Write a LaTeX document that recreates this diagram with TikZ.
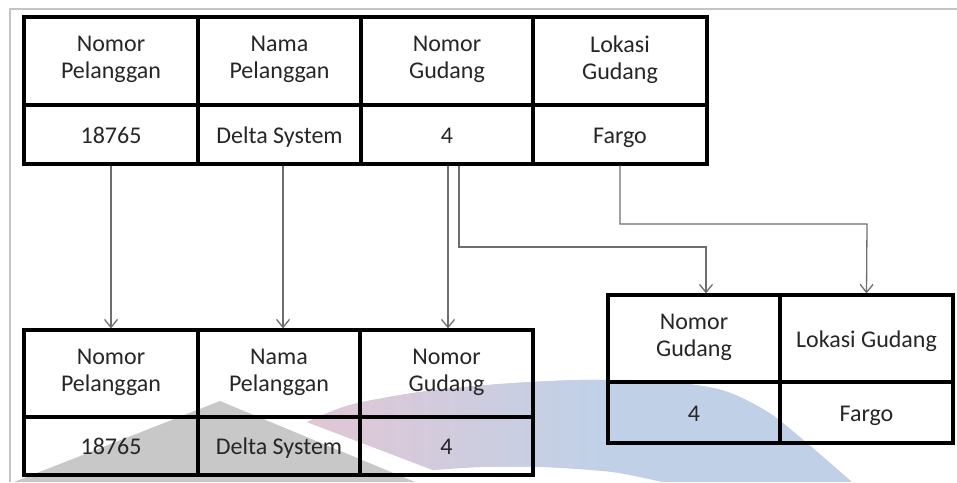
\documentclass[tikz,border=0pt]{standalone}
\usepackage{fontspec}
\setmainfont{Carlito}
\usetikzlibrary{arrows.meta}
\definecolor{frameGray}{HTML}{C4C4C4}
\definecolor{linkGray}{HTML}{6E6E6E}
\definecolor{inkText}{HTML}{262626}
\definecolor{wmGray}{HTML}{C8C8C8}
\definecolor{wmPink}{HTML}{E2C6D4}
\definecolor{wmBlue}{HTML}{C0D1E7}
\tikzset{
  % invisible rules give every cell text the same line box, so baselines agree
  cell/.style={draw=black, line width=3.2pt, inner sep=0pt, align=center,
    text=inkText, font=\fontsize{24}{27}\selectfont,
    execute at begin node=\rule{0pt}{23.5pt}, execute at end node=\rule[-6.5pt]{0pt}{6.5pt}},
  link/.style={draw=linkGray, line width=1.3pt},
  tip/.style={-{Straight Barb[length=8pt,width=13pt,line width=1.3pt]}}
}
\begin{document}
\begin{tikzpicture}[x=1pt,y=-1pt]
\useasboundingbox (0,0) rectangle (957,482);
% page frame
\draw[frameGray, line width=1.2pt] (10,482) -- (10,9) -- (957,9);

% faint logo in the background
\fill[wmGray] (220,401) -- (14,482) -- (415,482) -- cycle;
\begin{scope}
  \clip plot[smooth] coordinates {(307,422) (350,405) (420,392) (500,384) (580,380) (660,381) (722,390) (768,412) (807,443) (852,482)}
     -- plot[smooth] coordinates {(662,482) (612,472) (545,467) (480,467) (433,470)} -- cycle;
  \fill[wmBlue] (300,370) rectangle (860,482);
  \shade[left color=wmPink, right color=wmBlue] (300,370) rectangle (600,482);
\end{scope}

% upper table
\node[cell, minimum width=174pt, minimum height=88pt] (a1) at (111,61) {Nomor\\Pelanggan};
\node[cell, minimum width=163pt, minimum height=88pt] (a2) at (279.5,61) {Nama\\Pelanggan};
\node[cell, minimum width=172pt, minimum height=88pt] (a3) at (447,61) {Nomor\\Gudang};
\node[cell, minimum width=174pt, minimum height=88pt] (a4) at (620,61) {Lokasi\\Gudang};
\node[cell, minimum width=174pt, minimum height=59pt] (b1) at (111,134.5) {18765};
\node[cell, minimum width=163pt, minimum height=59pt] (b2) at (279.5,134.5) {Delta System};
\node[cell, minimum width=172pt, minimum height=59pt] (b3) at (447,134.5) {4};
\node[cell, minimum width=174pt, minimum height=59pt] (b4) at (620,134.5) {Fargo};

% lower left table
\node[cell, minimum width=174pt, minimum height=87pt] (c1) at (111,373.5) {Nomor\\Pelanggan};
\node[cell, minimum width=162pt, minimum height=87pt] (c2) at (279,373.5) {Nama\\Pelanggan};
\node[cell, minimum width=173pt, minimum height=87pt] (c3) at (446.5,373.5) {Nomor\\Gudang};
\node[cell, minimum width=174pt, minimum height=58pt] (d1) at (111,446) {18765};
\node[cell, minimum width=162pt, minimum height=58pt] (d2) at (279,446) {Delta System};
\node[cell, minimum width=173pt, minimum height=58pt] (d3) at (446.5,446) {4};

% lower right table
\node[cell, minimum width=172pt, minimum height=87pt] (e1) at (694,338.5) {Nomor\\Gudang};
\node[cell, minimum width=173pt, minimum height=87pt] (e2) at (866.5,338.5) {Lokasi Gudang};
\node[cell, minimum width=172pt, minimum height=61pt] (f1) at (694,412.5) {4};
\node[cell, minimum width=173pt, minimum height=61pt] (f2) at (866.5,412.5) {Fargo};

% connectors
\draw[link, tip] (b1.south) -- (c1.north);
\draw[link, tip] ([xshift=3.5pt]b2.south) -- ([xshift=4pt]c2.north);
\draw[link, tip] ([xshift=1pt]b3.south) -- ([xshift=1.5pt]c3.north);
\draw[link, tip] ([xshift=12pt]b3.south) |- (706,247) -- ([xshift=12pt]e1.north);
\draw[link, tip] (b4.south) |- (867,224) -- (e2.north);
\end{tikzpicture}
\end{document}
